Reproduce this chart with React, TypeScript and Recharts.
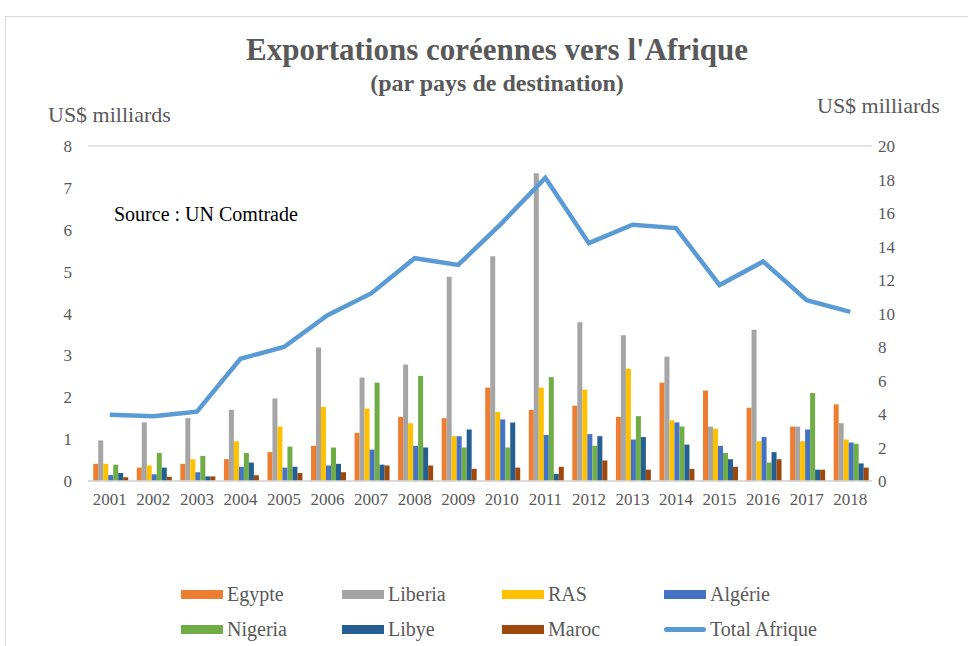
import { ComposedChart, Bar, Line, XAxis, YAxis, CartesianGrid } from 'recharts';

const years = ['2001', '2002', '2003', '2004', '2005', '2006', '2007', '2008', '2009', '2010', '2011', '2012', '2013', '2014', '2015', '2016', '2017', '2018'];

const egypte = [0.41, 0.32, 0.41, 0.52, 0.69, 0.84, 1.15, 1.53, 1.5, 2.23, 1.7, 1.8, 1.53, 2.35, 2.16, 1.75, 1.3, 1.83];
const liberia = [0.97, 1.4, 1.5, 1.7, 1.97, 3.19, 2.47, 2.78, 4.88, 5.37, 7.35, 3.79, 3.48, 2.97, 1.3, 3.61, 1.3, 1.38];
const ras = [0.41, 0.37, 0.52, 0.95, 1.3, 1.77, 1.73, 1.38, 1.07, 1.65, 2.23, 2.18, 2.68, 1.45, 1.25, 0.95, 0.95, 0.99];
const algerie = [0.14, 0.16, 0.21, 0.34, 0.32, 0.37, 0.75, 0.84, 1.07, 1.47, 1.1, 1.12, 0.99, 1.4, 0.84, 1.05, 1.23, 0.92];
const nigeria = [0.39, 0.67, 0.6, 0.67, 0.82, 0.8, 2.35, 2.51, 0.8, 0.8, 2.48, 0.84, 1.55, 1.3, 0.67, 0.44, 2.1, 0.89];
const libye = [0.19, 0.32, 0.11, 0.44, 0.34, 0.41, 0.39, 0.8, 1.23, 1.4, 0.17, 1.07, 1.05, 0.87, 0.52, 0.69, 0.27, 0.42];
const maroc = [0.09, 0.1, 0.11, 0.14, 0.19, 0.21, 0.37, 0.37, 0.29, 0.32, 0.34, 0.49, 0.27, 0.29, 0.34, 0.52, 0.27, 0.32];
const totalAfrique = [3.96, 3.86, 4.14, 7.3, 8.0, 9.9, 11.2, 13.3, 12.9, 15.4, 18.1, 14.2, 15.3, 15.1, 11.7, 13.1, 10.8, 10.1];

const leftTicks = [0, 1, 2, 3, 4, 5, 6, 7, 8];
const rightTicks = [0, 2, 4, 6, 8, 10, 12, 14, 16, 18, 20];

const data = years.map((y, i) => ({
  year: y,
  Egypte: egypte[i],
  Liberia: liberia[i],
  RAS: ras[i],
  'Algérie': algerie[i],
  Nigeria: nigeria[i],
  Libye: libye[i],
  Maroc: maroc[i],
  'Total Afrique': totalAfrique[i],
}));

const barSeries = [
  { key: 'Egypte', color: '#ed7d31' },
  { key: 'Liberia', color: '#a5a5a5' },
  { key: 'RAS', color: '#ffc000' },
  { key: 'Algérie', color: '#4472c4' },
  { key: 'Nigeria', color: '#70ad47' },
  { key: 'Libye', color: '#255e91' },
  { key: 'Maroc', color: '#9e480e' },
];
const lineColor = '#5b9bd5';

const font = '"Liberation Serif", "Times New Roman", serif';
const grey = '#595959';

// legend layout: 4 columns, 2 rows
const legendItems = [...barSeries.map((s) => ({ ...s, line: false })), { key: 'Total Afrique', color: lineColor, line: true }];
const legendCols = [181, 342, 502, 664];
const legendRows = [594, 629];

const App = () => {
  return (
    <div style={{ position: 'absolute', left: 0, top: 0, width: 968, height: 646, background: '#fff', overflow: 'hidden', fontFamily: font }}>
      <div style={{ position: 'absolute', left: 5, top: 16, width: 980, height: 660, border: '1px solid #d9d9d9' }} />
      <div style={{ position: 'absolute', left: 0, width: 994, top: 32, textAlign: 'center', fontSize: 31, fontWeight: 'bold', color: grey }}>
        Exportations coréennes vers l'Afrique
      </div>
      <div style={{ position: 'absolute', left: 0, width: 994, top: 70, textAlign: 'center', fontSize: 24, fontWeight: 'bold', color: grey }}>
        (par pays de destination)
      </div>
      <div style={{ position: 'absolute', left: 48, top: 102, fontSize: 22, color: grey }}>US$ milliards</div>
      <div style={{ position: 'absolute', left: 817, top: 93, fontSize: 22, color: grey }}>US$ milliards</div>
      <div style={{ position: 'absolute', left: 0, top: 0 }}>
        <ComposedChart
          width={968}
          height={646}
          data={data}
          margin={{ top: 146, right: 0, left: 0, bottom: 135 }}
          barCategoryGap="12%"
          barGap={0}
        >
          <CartesianGrid vertical={false} stroke="#d9d9d9" strokeWidth={1.5} />
          <XAxis
            dataKey="year"
            height={30}
            tickLine={false}
            tickSize={0}
            tickMargin={12}
            axisLine={{ stroke: '#d9d9d9', strokeWidth: 1.5 }}
            tick={{ fill: grey, fontSize: 17, fontFamily: font }}
            interval={0}
          />
          <YAxis
            yAxisId="left"
            width={88}
            domain={[0, 8]}
            ticks={leftTicks}
            axisLine={false}
            tickLine={false}
            tickSize={0}
            tickMargin={16}
            tick={{ fill: grey, fontSize: 17, fontFamily: font }}
          />
          <YAxis
            yAxisId="right"
            orientation="right"
            width={96}
            domain={[0, 20]}
            ticks={rightTicks}
            axisLine={false}
            tickLine={false}
            tickSize={0}
            tickMargin={6}
            tick={{ fill: grey, fontSize: 17, fontFamily: font }}
          />
          {barSeries.map((s) => (
            <Bar key={s.key} yAxisId="left" dataKey={s.key} fill={s.color} isAnimationActive={false} />
          ))}
          <Line
            yAxisId="right"
            dataKey="Total Afrique"
            stroke={lineColor}
            strokeWidth={4.5}
            dot={false}
            activeDot={false}
            type="linear"
            isAnimationActive={false}
          />
        </ComposedChart>
      </div>
      <div style={{ position: 'absolute', left: 114, top: 203, fontSize: 20, color: '#000' }}>Source : UN Comtrade</div>
      {legendItems.map((item, i) => {
        const x = legendCols[i % 4];
        const y = legendRows[Math.floor(i / 4)];
        return (
          <div key={item.key} style={{ position: 'absolute', left: x, top: y - 12, height: 24, display: 'flex', alignItems: 'center' }}>
            <span
              style={{
                display: 'inline-block',
                width: 42,
                height: item.line ? 5 : 9,
                borderRadius: item.line ? 3 : 0,
                background: item.color,
                marginRight: 4,
              }}
            />
            <span style={{ fontSize: 20, color: grey }}>{item.key}</span>
          </div>
        );
      })}
    </div>
  );
};

export default App;
